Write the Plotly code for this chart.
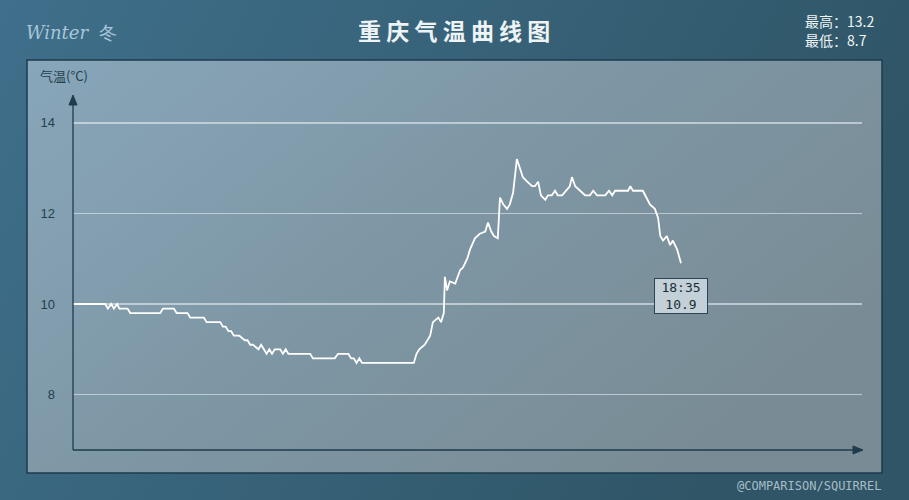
import plotly.graph_objects as go

# ---- data ----
times = ["00:00", "00:59", "01:04", "01:10", "01:15", "01:21", "01:25", "01:40", "01:45",
         "02:40", "02:45", "03:05", "03:10", "03:30", "03:35", "04:00", "04:05", "04:30",
         "04:35", "04:40", "04:45", "04:50", "04:55", "05:05", "05:15", "05:20", "05:25",
         "05:30", "05:40", "05:45", "05:50", "05:55", "06:00", "06:05", "06:10", "06:20",
         "06:25", "06:30", "06:35", "07:15", "07:20", "08:00", "08:06", "08:25", "08:30",
         "08:35", "08:40", "08:45", "08:50", "08:55", "10:25", "10:30", "10:35", "10:45",
         "10:55", "11:00", "11:10", "11:15", "11:20", "11:22", "11:26", "11:31", "11:41",
         "11:50", "11:55", "12:03", "12:08", "12:17", "12:26", "12:36", "12:41", "12:47",
         "12:52", "12:59", "13:03", "13:09", "13:16", "13:21", "13:27", "13:34", "13:40",
         "13:45", "13:53", "14:02", "14:07", "14:13", "14:18", "14:26", "14:31", "14:38",
         "14:44", "14:49", "14:57", "15:04", "15:11", "15:15", "15:21", "15:30", "15:39",
         "15:48", "15:54", "16:01", "16:16", "16:23", "16:29", "16:34", "16:58", "17:02",
         "17:07", "17:25", "17:29", "17:38", "17:47", "17:53", "17:57", "18:02", "18:09",
         "18:15", "18:20", "18:28", "18:35"]
temps = [10.0, 10.0, 9.9, 10.0, 9.9, 10.0, 9.9, 9.9, 9.8,
         9.8, 9.9, 9.9, 9.8, 9.8, 9.7, 9.7, 9.6, 9.6,
         9.5, 9.5, 9.4, 9.4, 9.3, 9.3, 9.2, 9.2, 9.1,
         9.1, 9.0, 9.1, 9.0, 8.9, 9.0, 8.9, 9.0, 9.0,
         8.9, 9.0, 8.9, 8.9, 8.8, 8.8, 8.9, 8.9, 8.8,
         8.8, 8.7, 8.8, 8.7, 8.7, 8.7, 8.9, 9.0, 9.1,
         9.3, 9.6, 9.7, 9.6, 9.8, 10.6, 10.3, 10.5, 10.45,
         10.75, 10.8, 11.0, 11.2, 11.45, 11.55, 11.6, 11.8, 11.6,
         11.5, 11.45, 12.35, 12.2, 12.1, 12.2, 12.45, 13.2, 13.0,
         12.8, 12.7, 12.6, 12.6, 12.7, 12.4, 12.3, 12.4, 12.4,
         12.5, 12.4, 12.4, 12.5, 12.6, 12.8, 12.6, 12.5, 12.4,
         12.4, 12.5, 12.4, 12.4, 12.5, 12.4, 12.5, 12.5, 12.6,
         12.5, 12.5, 12.4, 12.2, 12.1, 11.9, 11.5, 11.4, 11.5,
         11.3, 11.4, 11.2, 10.9]
y_ticks = [8, 10, 12, 14]
title_text = "重 庆 气 温 曲 线 图"
max_label = "最高：13.2"
min_label = "最低：8.7"
last_time_label = "18:35"
last_temp_label = "10.9"


def to_min(t):
    h, m = t.split(":")
    return int(h) * 60 + int(m)


xs = [to_min(t) for t in times]

# ---- layout geometry (pixels) ----
W, H = 909, 500
L, R, T, B = 73, 862, 95, 450   # plot area in pixels
PW, PH = R - L, B - T


def px(x):
    return (x - L) / PW


def py(y):
    return (B - y) / PH


fig = go.Figure()
fig.add_trace(go.Scatter(x=xs, y=temps, mode="lines",
                         line=dict(color="white", width=1.8), hoverinfo="skip",
                         showlegend=False))

bg_svg = ("data:image/svg+xml;utf8,"
          "<svg xmlns='http://www.w3.org/2000/svg' width='909' height='500'>"
          "<defs><linearGradient id='g' x1='0' y1='0' x2='1' y2='0.3'>"
          "<stop offset='0' stop-color='%233f6f8b'/><stop offset='1' stop-color='%232f5566'/>"
          "</linearGradient></defs><rect width='909' height='500' fill='url(%23g)'/></svg>")
panel_svg = ("data:image/svg+xml;utf8,"
             "<svg xmlns='http://www.w3.org/2000/svg' width='855' height='413'>"
             "<defs><linearGradient id='p' x1='0' y1='0' x2='1' y2='0.6'>"
             "<stop offset='0' stop-color='%2388a6ba'/><stop offset='0.5' stop-color='%237e97a5'/>"
             "<stop offset='1' stop-color='%23798c95'/>"
             "</linearGradient></defs><rect width='855' height='413' fill='url(%23p)'/></svg>")

fig.update_layout(
    images=[
        dict(source=bg_svg, xref="paper", yref="paper", x=px(0), y=py(0),
             sizex=W / PW, sizey=H / PH, sizing="stretch", layer="below",
             xanchor="left", yanchor="top"),
        dict(source=panel_svg, xref="paper", yref="paper", x=px(27), y=py(60),
             sizex=(882 - 27) / PW, sizey=(473 - 60) / PH, sizing="stretch",
             layer="below", xanchor="left", yanchor="top"),
    ]
)

shapes = [
    dict(type="rect", xref="paper", yref="paper", x0=px(27), x1=px(882),
         y0=py(473), y1=py(60), line=dict(color="#1d3b4d", width=1.5), layer="below"),
    dict(type="line", xref="paper", yref="paper", x0=0, x1=0, y0=0, y1=py(100),
         line=dict(color="#1f3b4c", width=1.3)),
    dict(type="line", xref="paper", yref="paper", x0=0, x1=px(858), y0=0, y1=0,
         line=dict(color="#1f3b4c", width=1.3)),
    dict(type="path", xref="paper", yref="paper", xsizemode="pixel", ysizemode="pixel",
         xanchor=0, yanchor=py(95), path="M 0 0 L -4 -10 L 4 -10 Z",
         fillcolor="#1f3b4c", line=dict(color="#1f3b4c", width=1)),
    dict(type="path", xref="paper", yref="paper", xsizemode="pixel", ysizemode="pixel",
         xanchor=px(863), yanchor=0, path="M 0 0 L -10 4 L -10 -4 Z",
         fillcolor="#1f3b4c", line=dict(color="#1f3b4c", width=1)),
]

fig.update_layout(
    width=W, height=H,
    margin=dict(l=L, r=W - R, t=T, b=H - B, pad=0),
    paper_bgcolor="#376179",
    plot_bgcolor="rgba(0,0,0,0)",
    shapes=shapes,
    xaxis=dict(range=[0, (R - L) / 0.5453], showgrid=False, zeroline=False,
               showticklabels=False, showline=False, fixedrange=True),
    yaxis=dict(range=[10 - (B - 304) / 45.3, 10 + (304 - T) / 45.3],
               tickvals=y_ticks, showgrid=True,
               gridcolor="rgba(222,231,236,0.65)", gridwidth=1.5,
               zeroline=False, showline=False, ticks="",
               ticklabelstandoff=17, fixedrange=True,
               tickfont=dict(family="Liberation Sans, Arial", size=13, color="#22404f")),
    font=dict(family="Noto Sans CJK SC"),
)

annotations = [
    dict(text=title_text, xref="paper", yref="paper", x=px(454), y=py(30),
         showarrow=False, xanchor="center", yanchor="middle",
         font=dict(family="Noto Sans CJK SC", size=23, color="#eef3f5", weight="bold")),
    dict(text="<i>Winter</i>  冬", xref="paper", yref="paper", x=px(24), y=py(32),
         showarrow=False, xanchor="left", yanchor="middle",
         font=dict(family="DejaVu Serif", size=18, color="#a8c6da")),
    dict(text=max_label, xref="paper", yref="paper", x=px(803), y=py(21),
         showarrow=False, xanchor="left", yanchor="middle",
         font=dict(family="Noto Sans CJK SC", size=14, color="#f0f4f6")),
    dict(text=min_label, xref="paper", yref="paper", x=px(803), y=py(40),
         showarrow=False, xanchor="left", yanchor="middle",
         font=dict(family="Noto Sans CJK SC", size=14, color="#f0f4f6")),
    dict(text="气温(°C)", xref="paper", yref="paper", x=px(38), y=py(75),
         showarrow=False, xanchor="left", yanchor="middle",
         font=dict(family="Noto Sans CJK SC", size=13, color="#22404f")),
    dict(text="@COMPARISON/SQUIRREL", xref="paper", yref="paper", x=px(884), y=py(486),
         showarrow=False, xanchor="right", yanchor="middle",
         font=dict(family="DejaVu Sans Mono", size=12, color="#a9bcc6")),
    dict(text=last_time_label + "<br>" + last_temp_label, x=xs[-1], y=temps[-1],
         xref="x", yref="y", showarrow=False, xanchor="center", yanchor="top",
         yshift=-15, width=50, bgcolor="#c3d0d7", bordercolor="#2a4656", borderwidth=1,
         borderpad=1, font=dict(family="DejaVu Sans Mono", size=13, color="#1b2d38")),
]
fig.update_layout(annotations=annotations)

fig.write_html("out.html", config={"displayModeBar": False, "staticPlot": True},
               post_script="document.body.style.margin='0';"
                           "document.body.style.overflow='hidden';")
